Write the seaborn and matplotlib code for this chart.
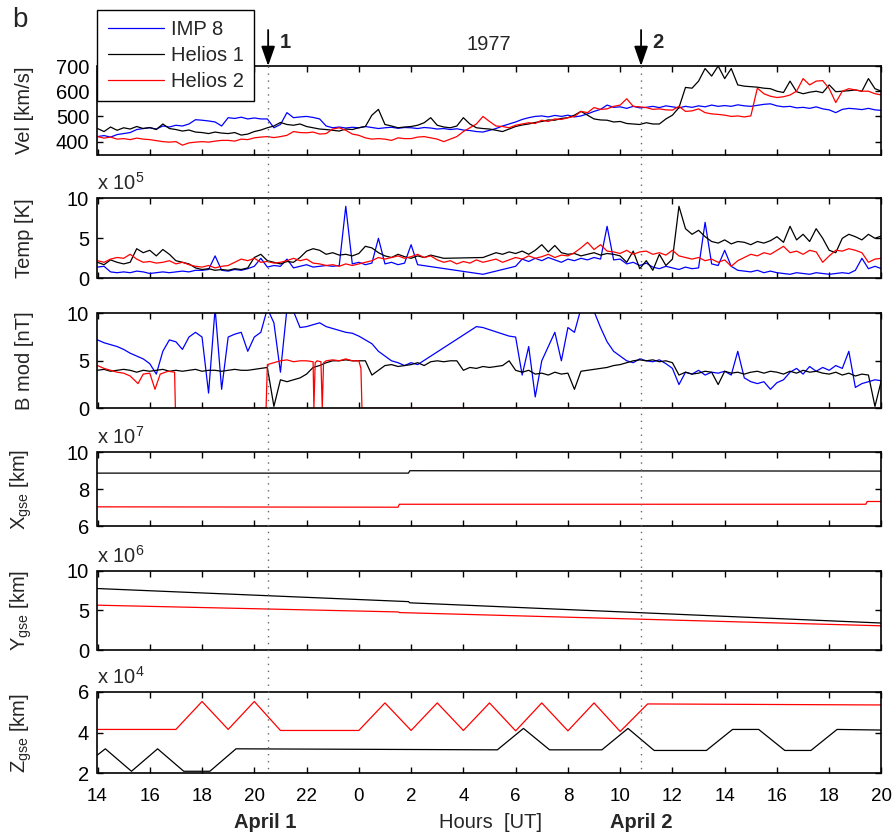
import numpy as np
import pandas as pd
import matplotlib.pyplot as plt
import seaborn as sns
from matplotlib.lines import Line2D

# ── data ──────────────────────────────────────────────────────────────────────
# noisy series sampled every quarter hour, hour 14 (April 1) .. 44 (20 UT April 2)
HOURS = 14 + 0.25 * np.arange(121)
nan = np.nan

vel_imp8 = [
    420, 424, 418, 428, 432, 436, 448, 452, 455, 450, 462, 458, 465, 462, 470, 487,
    485, 482, 478, 462, 495, 492, 497, 490, 494, 490, 490, 455, 468, 515, 495, 498,
    500, 496, 490, 462, 455, 458, 454, 457, 455, 460, 456, 452, 455, 457, 453, 456,
    455, 452, 456, 454, 450, 452, 448, 451, 446, 444, 440, 438, 445, 452, 462, 470,
    478, 488, 495, 500, 502, 498, 504, 500, 505, 498, 502, 510, 520, 528, 545, 536,
    538, 532, 540, 534, 536, 540, 535, 542, 538, 534, 540, 536, 542, 538, 545, 540,
    543, 540, 546, 542, 540, 544, 548, 550, 542, 538, 540, 534, 536, 532, 538, 530,
    526, 515, 528, 532, 530, 527, 532, 526, 524]
vel_helios1 = [
    452, 440, 458, 445, 455, 450, 460, 452, 456, 448, 470, 452, 448, 442, 446, 438,
    436, 432, 438, 434, 432, 436, 426, 430, 440, 446, 455, 462, 476, 468, 465, 470,
    460, 455, 450, 448, 445, 442, 450, 448, 455, 460, 505, 528, 468, 462, 455, 458,
    460, 465, 475, 495, 465, 458, 455, 462, 495, 470, 455, 452, 450, 445, 440, 450,
    460, 466, 470, 476, 480, 486, 485, 492, 495, 505, 520, 505, 490, 486, 485, 478,
    480, 472, 470, 468, 475, 470, 470, 490, 505, 535, 615, 612, 640, 690, 660, 700,
    650, 690, 625, 620, 618, 616, 612, 610, 600, 595, 640, 598, 590, 596, 600, 594,
    625, 598, 600, 602, 605, 600, 650, 610, 600]
vel_helios2 = [
    420, 414, 418, 410, 412, 408, 414, 410, 408, 404, 400, 398, 400, 386, 395, 398,
    400, 398, 402, 405, 405, 402, 410, 408, 415, 418, 420, 416, 420, 425, 440, 436,
    435, 438, 430, 432, 450, 455, 445, 430, 425, 415, 410, 412, 410, 405, 415, 412,
    412, 418, 420, 415, 410, 400, 410, 420, 440, 455, 470, 500, 480, 462, 460, 455,
    465, 470, 475, 472, 485, 480, 490, 488, 495, 500, 520, 515, 535, 528, 530, 540,
    545, 570, 540, 538, 535, 528, 530, 526, 525, 540, 520, 522, 530, 515, 510, 508,
    505, 500, 502, 498, 502, 612, 590, 580, 575, 578, 585, 600, 650, 625, 640, 642,
    610, 555, 600, 610, 605, 600, 600, 590, 585]

temp_imp8 = [
    1.4, 1.5, 0.8, 0.7, 0.8, 0.7, 0.9, 0.8, 0.6, 0.7, 0.8, 0.7, 0.8, 0.9, 0.8, 1.0,
    1.0, 1.1, 2.8, 1.0, 0.9, 1.1, 1.0, 1.2, 1.5, 2.5, 1.4, 1.6, 1.5, 2.4, 1.3, 1.5,
    1.7, 1.4, 1.5, 1.6, 1.5, 1.6, 9.0, 1.8, 2.0, 1.7, 1.9, 5.0, 1.8, 2.0, 1.7, 1.9,
    4.2, 1.7, nan, nan, nan, nan, nan, nan, nan, nan, nan, 0.5, nan, nan, nan, nan,
    1.5, 2.4, 2.1, 2.5, 2.2, 2.6, 2.3, 2.0, 2.4, 2.2, 2.5, 2.3, 2.6, 2.4, 6.5, 2.3,
    2.4, 1.8, 2.0, 1.6, 1.9, 1.4, 1.2, 1.5, 1.3, 1.1, 1.4, 1.2, 1.3, 7.0, 1.8, 1.6,
    3.5, 1.5, 1.0, 0.9, 0.8, 1.0, 0.7, 0.9, 0.7, 0.6, 0.5, 0.7, 0.6, 0.5, 0.7, 0.6,
    0.5, 0.6, 0.7, 0.6, 1.0, 2.5, 1.2, 1.5, 1.2]
temp_helios1 = [
    2.0, 1.7, 2.3, 2.0, 1.8, 2.0, 3.7, 3.2, 3.5, 2.8, 3.6, 3.0, 2.2, 2.0, 1.8, 1.3,
    1.1, 1.2, 1.0, 1.1, 1.0, 1.2, 1.1, 1.3, 2.6, 3.0, 2.2, 2.0, 1.8, 2.1, 2.0, 2.6,
    3.4, 3.7, 3.5, 3.0, 3.2, 2.9, 3.0, 2.8, 3.1, 4.0, 3.8, 3.2, 2.8, 2.6, 3.0, 2.7,
    2.5, 2.8, 2.6, 2.9, 2.7, 2.5, nan, nan, nan, nan, nan, 2.6, 2.9, 3.2, 3.0, 3.3,
    3.1, 3.4, 3.0, 3.5, 4.2, 3.3, 4.1, 3.2, 3.0, 3.1, 2.8, 3.0, 3.2, 2.9, 3.1, 3.0,
    2.8, 2.0, 3.4, 1.2, 2.2, 1.0, 3.0, 1.6, 2.4, 9.0, 6.2, 5.5, 6.0, 5.2, 4.6, 4.4,
    4.8, 4.3, 4.6, 4.5, 4.2, 4.6, 4.4, 4.7, 5.2, 4.5, 6.5, 4.8, 5.5, 4.6, 6.2, 5.0,
    3.5, 3.2, 5.0, 5.5, 5.2, 4.8, 5.5, 5.0, 5.3]
temp_helios2 = [
    2.2, 2.0, 2.4, 2.6, 2.5, 3.0, 2.4, 2.0, 2.1, 1.9, 2.0, 2.2, 1.8, 2.0, 1.7, 1.5,
    1.4, 1.6, 1.3, 1.5, 1.6, 2.0, 2.4, 2.2, 2.5, 2.0, 2.1, 1.9, 2.0, 2.2, 2.5, 2.2,
    2.4, 1.9, 1.8, 1.6, 1.7, 1.5, 1.8, 1.6, 1.8, 2.0, 2.2, 2.6, 2.4, 2.6, 2.8, 2.5,
    2.7, 3.0, 2.6, 2.8, 2.3, 2.0, 2.2, 1.8, 2.1, 1.9, 2.3, 2.0, 2.2, 2.4, 2.0, 2.3,
    2.6, 2.4, 2.8, 2.5, 2.7, 3.0, 2.6, 2.9, 2.8, 3.2, 3.8, 4.5, 3.6, 4.2, 3.4, 3.3,
    3.1, 3.5, 3.0, 3.3, 3.4, 3.0, 3.2, 2.9, 3.5, 2.8, 2.6, 2.4, 2.6, 2.2, 2.4, 2.0,
    2.3, 1.5, 2.2, 2.6, 3.0, 2.8, 3.2, 3.0, 3.5, 4.0, 3.2, 3.4, 3.0, 3.5, 3.3, 2.0,
    2.8, 3.5, 3.4, 3.7, 3.5, 3.2, 2.0, 2.4, 2.5]

bmod_imp8 = [
    7.2, 6.9, 6.7, 6.5, 6.2, 5.8, 5.5, 5.2, 4.7, 3.6, 6.0, 7.2, 7.0, 6.2, 7.5, 8.0,
    7.5, 1.6, 10.5, 2.0, 7.5, 7.8, 8.0, 6.0, 7.5, 8.0, 10.5, 9.0, 3.8, 10.5, 10.2, 8.5,
    8.6, 8.8, 9.0, 8.6, 8.4, 8.2, 8.0, 7.9, 7.6, 7.2, 6.8, 6.0, 5.5, 5.0, 4.8, 4.5,
    4.8, 4.6, nan, nan, nan, nan, nan, nan, nan, nan, 8.6, 8.5, nan, nan, nan, 7.6,
    7.5, 3.5, 6.5, 1.2, 5.0, 6.5, 8.0, 5.0, 8.5, 8.0, 10.5, 10.5, 10.2, 8.5, 7.0, 6.0,
    5.5, 5.0, 4.8, 5.2, 5.0, 4.9, 5.1, 4.7, 4.2, 2.5, 3.8, 3.6, 4.0, 3.5, 3.8, 3.7,
    3.9, 3.5, 6.0, 3.2, 2.8, 2.6, 2.8, 2.0, 2.7, 3.0, 3.8, 4.2, 3.6, 4.4, 3.9, 4.3,
    4.0, 4.5, 4.2, 6.0, 2.2, 2.6, 2.8, 3.0, 2.9]
bmod_helios1 = [
    4.0, 4.1, 3.9, 4.0, 4.1, 4.0, 3.8, 4.0, 3.9, 4.0, 4.1, 3.9, 4.0, 3.9, 4.0, 4.1,
    3.9, 4.0, 4.0, 3.9, 4.0, 4.1, 4.0, 4.0, 4.1, 4.2, 4.3, 0.2, 3.0, 2.8, 3.0, 3.2,
    3.6, 4.3, 4.5, 4.8, 5.0, 5.0, 5.1, 5.0, 5.0, 5.0, 3.5, 4.0, 4.5, 4.6, 4.4, 4.5,
    4.6, 4.8, 4.5, 4.9, 5.0, 4.9, 5.0, 5.0, 4.0, 4.3, 4.2, 4.4, 4.3, 4.4, 4.5, 5.0,
    4.0, 3.8, 4.0, 3.6, 3.7, 3.5, 3.8, 3.6, 3.7, 2.0, 3.9, 4.0, 4.1, 4.2, 4.3, 4.5,
    4.6, 4.8, 5.0, 5.1, 5.0, 5.1, 4.9, 5.0, 4.8, 3.5, 3.8, 3.6, 3.7, 3.9, 3.8, 2.5,
    3.9, 3.7, 3.8, 3.6, 3.8, 3.9, 3.7, 3.9, 3.8, 3.6, 3.9, 3.7, 4.0, 3.8, 3.9, 3.7,
    3.6, 3.8, 3.5, 3.7, 3.4, 3.6, 3.5, 0.2, 3.0]
# Helios 2 magnetometer drops out several times -> own (irregular) time stamps
bmod_helios2_hours = [
    14.0, 14.25, 14.5, 14.75, 15.0, 15.25, 15.55, 15.75, 16.0, 16.2, 16.4, 16.7,
    16.95, 16.98, 20.45, 20.5, 20.75, 21.0, 21.25, 21.5, 21.75, 22.0, 22.25, 22.28,
    22.33, 22.4, 22.55, 22.6, 22.65, 22.75, 23.0, 23.25, 23.5, 23.75, 24.0, 24.08,
    24.12, 44.0]
bmod_helios2 = [
    4.5, 4.2, 4.0, 3.8, 3.7, 3.4, 2.6, 3.6, 3.7, 2.0, 3.6, 3.9,
    3.8, 0.0, 0.0, 4.6, 4.8, 5.0, 5.1, 4.9, 5.0, 5.0, 4.9, 0.0,
    4.8, 5.0, 4.9, 0.0, 4.8, 5.0, 5.1, 5.0, 5.2, 5.0, 5.0, 4.2,
    0.0, 0.0]

# spacecraft positions (line vertices)
xgse_h1_hours = [14.0, 25.9, 25.95, 44.0]
xgse_h1 = [8.87, 8.87, 9.0, 8.98]            # x 10^7 km
xgse_h2_hours = [14.0, 25.5, 25.55, 43.4, 43.45, 44.0]
xgse_h2 = [7.04, 7.02, 7.18, 7.18, 7.33, 7.33]

ygse_h1_hours = [14.0, 25.9, 25.95, 44.0]
ygse_h1 = [7.75, 6.1, 5.95, 3.4]             # x 10^6 km
ygse_h2_hours = [14.0, 25.5, 25.55, 44.0]
ygse_h2 = [5.65, 4.8, 4.72, 3.05]

zgse_h1_hours = [14.0, 14.3, 15.3, 16.3, 17.3, 18.3, 19.3, 29.3, 30.3, 31.3, 33.3,
                 34.3, 35.3, 37.3, 38.3, 39.3, 40.3, 41.3, 42.3, 44.0]
zgse_h1 = [2.9, 3.2, 2.1, 3.2, 2.1, 2.1, 3.2, 3.15, 4.2, 3.15, 3.15,
           4.2, 3.12, 3.12, 4.15, 4.15, 3.12, 3.12, 4.15, 4.12]   # x 10^4 km
zgse_h2_hours = [14.0, 17.0, 18.0, 19.0, 20.0, 21.0, 24.0, 25.0, 26.0, 27.0, 28.0,
                 29.0, 30.0, 31.0, 32.0, 33.0, 34.0, 35.05, 44.0]
zgse_h2 = [4.15, 4.15, 5.52, 4.15, 5.52, 4.1, 4.1, 5.45, 4.1, 5.45, 4.1,
           5.45, 4.08, 5.45, 4.08, 5.45, 4.05, 5.4, 5.35]

CRAFTS = ["IMP 8", "Helios 1", "Helios 2"]
PALETTE = {"IMP 8": "#0000ff", "Helios 1": "#000000", "Helios 2": "#ff0000"}

XTICKS = list(range(14, 45, 2))
XTICKLABELS = ["14", "16", "18", "20", "22", "0", "2", "4", "6", "8", "10",
               "12", "14", "16", "18", "20"]
EVENTS = {"1": 20.53, "2": 34.8}


def long_frame(series):
    parts = [pd.DataFrame({"hour": t, "value": v, "craft": c}) for c, (t, v) in series.items()]
    return pd.concat(parts, ignore_index=True).dropna()


panels = [
    # (top px, bottom px, data, ylabel, ylim, yticks, multiplier)
    (66, 155, {"IMP 8": (HOURS, vel_imp8), "Helios 1": (HOURS, vel_helios1),
               "Helios 2": (HOURS, vel_helios2)},
     "Vel [km/s]", (347, 700), [400, 500, 600, 700], None),
    (198.3, 278.3, {"IMP 8": (HOURS, temp_imp8), "Helios 1": (HOURS, temp_helios1),
                    "Helios 2": (HOURS, temp_helios2)},
     "Temp [K]", (0, 10), [0, 5, 10], "5"),
    (313.3, 408.3, {"IMP 8": (HOURS, bmod_imp8), "Helios 1": (HOURS, bmod_helios1),
                    "Helios 2": (bmod_helios2_hours, bmod_helios2)},
     "B mod [nT]", (0, 10), [0, 5, 10], None),
    (452.3, 526, {"Helios 1": (xgse_h1_hours, xgse_h1), "Helios 2": (xgse_h2_hours, xgse_h2)},
     r"X$_{\mathrm{gse}}$ [km]", (6, 10), [6, 8, 10], "7"),
    (570.7, 650, {"Helios 1": (ygse_h1_hours, ygse_h1), "Helios 2": (ygse_h2_hours, ygse_h2)},
     r"Y$_{\mathrm{gse}}$ [km]", (0, 10), [0, 5, 10], "6"),
    (691.7, 773.3, {"Helios 1": (zgse_h1_hours, zgse_h1), "Helios 2": (zgse_h2_hours, zgse_h2)},
     r"Z$_{\mathrm{gse}}$ [km]", (2, 6), [2, 4, 6], "4"),
]

# ── figure ────────────────────────────────────────────────────────────────────
sns.set_theme(style="ticks")
plt.rcParams["font.family"] = ["Liberation Sans", "DejaVu Sans"]
plt.rcParams["mathtext.fontset"] = "custom"
plt.rcParams["mathtext.rm"] = "Liberation Sans"
plt.rcParams["mathtext.it"] = "Liberation Sans:italic"

FS = 14.5
W, H = 895, 839
fig = plt.figure(figsize=(W / 100, H / 100), dpi=100)
left, width = 97.5 / W, 784 / W

axes = []
for top, bottom, series, ylabel, ylim, yticks, mult in panels:
    ax = fig.add_axes([left, 1 - bottom / H, width, (bottom - top) / H])
    df = long_frame(series)
    order = [c for c in CRAFTS if c in series]
    sns.lineplot(data=df, x="hour", y="value", hue="craft", hue_order=order,
                 palette=PALETTE, estimator=None, sort=False, lw=0.9,
                 legend=False, ax=ax)
    ax.set_xlim(14, 44)
    ax.set_ylim(*ylim)
    ax.set_yticks(yticks)
    ax.set_xticks(XTICKS)
    ax.set_xticklabels(XTICKLABELS)
    ax.set_xlabel("")
    ax.set_ylabel(ylabel, fontsize=FS, labelpad=0)
    ax.yaxis.set_label_coords(-0.081, 0.5)
    ax.tick_params(which="both", direction="in", top=True, right=True,
                   length=4.5, width=1, labelsize=FS, pad=6, colors="black")
    ax.tick_params(axis="x", labelbottom=False, labelsize=13.5)
    for sp in ax.spines.values():
        sp.set_linewidth(1.2)
        sp.set_color("black")
    if mult:
        ax.annotate(rf"x 10$^{{{mult}}}$", xy=(0, 1), xycoords="axes fraction",
                    xytext=(0, 6), textcoords="offset points",
                    fontsize=FS, ha="left", va="baseline")
    axes.append(ax)

axes[-1].tick_params(axis="x", labelbottom=True, pad=10.5)

# event arrows and dotted markers
top_ax = axes[0]
for name, hr in EVENTS.items():
    top_ax.annotate("", xy=(hr, 1.0), xycoords=("data", "axes fraction"),
                    xytext=(hr, 1 + 36 / 89), textcoords=("data", "axes fraction"),
                    arrowprops=dict(arrowstyle="-|>,head_length=0.8,head_width=0.28",
                                    color="black", lw=1.3, shrinkA=0, shrinkB=0,
                                    mutation_scale=15))
    top_ax.annotate(name, xy=(hr, 1 + 24 / 89), xycoords=("data", "axes fraction"),
                    xytext=(8, 0), textcoords="offset points",
                    fontsize=FS, fontweight="bold", ha="left", va="center")
    xf = left + (hr - 14) / 30 * width
    fig.add_artist(Line2D([xf, xf], [1 - 66 / H, 1 - 773.3 / H],
                          transform=fig.transFigure, color="0.4", lw=1,
                          ls=(0, (1, 4)), zorder=0.5))

fig.text(489 / W, 1 - 45 / H, "1977", fontsize=FS, ha="center", va="center")
fig.text(12 / W, 1 - 20 / H, "b", fontsize=20, ha="left", va="center")

fig.text(left + (EVENTS["1"] - 14) / 30 * width - 3 / W, 1 - 822 / H, "April 1",
         fontsize=FS, fontweight="bold", ha="center", va="center")
fig.text(491 / W, 1 - 822 / H, "Hours  [UT]", fontsize=FS, ha="center", va="center")
fig.text(left + (EVENTS["2"] - 14) / 30 * width, 1 - 822 / H, "April 2",
         fontsize=FS, fontweight="bold", ha="center", va="center")

handles = [Line2D([], [], color=PALETTE[c], lw=0.9) for c in CRAFTS]
fig.legend(handles, CRAFTS, loc="upper left", bbox_to_anchor=(left, 1 - 10 / H),
           frameon=True, fancybox=False, edgecolor="black", framealpha=1,
           fontsize=FS, handlelength=2.8, handletextpad=0.35, borderpad=0.5,
           labelspacing=0.34, borderaxespad=0)
fig.legends[-1].get_frame().set_linewidth(1.0)

fig.savefig("out.png", dpi=100)
